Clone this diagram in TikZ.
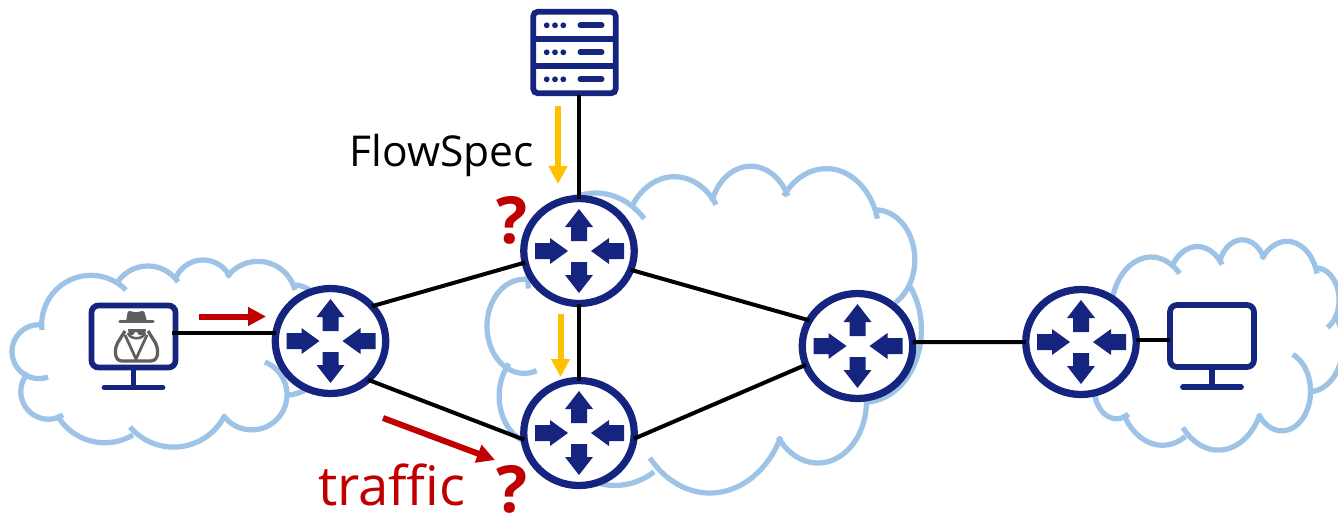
\documentclass[tikz,border=0pt]{standalone}
\usepackage{fontspec}
\setmainfont{Open Sans}
\usetikzlibrary{arrows.meta,calc,shapes.geometric}
\definecolor{navy}{HTML}{14247F}
\definecolor{cloudblue}{HTML}{9DC3E6}
\definecolor{flowgold}{HTML}{FFC000}
\definecolor{alertred}{HTML}{C00000}
\definecolor{spygray}{HTML}{5F5F5F}
\tikzset{
  cloudline/.style={draw=cloudblue, line width=.105cm},
  router/.style={ellipse, draw=navy, fill=white, line width=.145cm, minimum width=2.21cm, minimum height=2.1cm, inner sep=0pt, outer sep=0pt},
  screen/.style={draw=navy, fill=white, line width=.115cm, rounded corners=.14cm, minimum width=1.68cm, minimum height=1.24cm, inner sep=0pt, outer sep=0pt},
  rack/.style={draw=navy, fill=white, line width=.115cm, rounded corners=.09cm, minimum width=1.65cm, minimum height=1.63cm, inner sep=0pt, outer sep=0pt},
  iconline/.style={draw=navy, line width=.115cm, line cap=round},
  link/.style={draw=black, line width=.08cm},
  flowarrow/.style={draw=flowgold, line width=.12cm, -{Triangle[length=.36cm,width=.36cm]}},
  trafficarrow/.style={draw=alertred, line width=.12cm, -{Triangle[length=.36cm,width=.36cm]}},
  bigtext/.style={font=\fontsize{24.2}{28}\selectfont, anchor=base, inner sep=0pt},
  quest/.style={font=\fontsize{37}{44}\selectfont\bfseries, text=alertred, anchor=base, inner sep=0pt}
}
% one cloud, lobe by lobe: each lobe is the circle through start / middle / end
\newcommand{\cloudlobes}{
  \foreach \ax/\ay/\mx/\my/\bx/\by in {
    48/377/12/352/43/325, 42/330/68/281/126/290, 117/283/147/266/178/282,
    175/280/203/260/230/277, 227/277/265/262/295/290, 293/285/322/315/308/338,
    318/328/323/371/287/395, 265/362/274/422/223/415, 225/415/177/447/130/427,
    133/435/91/441/57/415, 63/415/27/409/28/373} {
    \pgfmathsetmacro\ux{(\bx-\ax)/100}
    \pgfmathsetmacro\uy{(\by-\ay)/100}
    \pgfmathsetmacro\vx{(\mx-\ax)/100}
    \pgfmathsetmacro\vy{(\my-\ay)/100}
    \pgfmathsetmacro\dd{2*(\ux*\vy-\uy*\vx)}
    \pgfmathsetmacro\cx{\ax+100*(\vy*(\ux*\ux+\uy*\uy)-\uy*(\vx*\vx+\vy*\vy))/\dd}
    \pgfmathsetmacro\cy{\ay+100*(\ux*(\vx*\vx+\vy*\vy)-\vx*(\ux*\ux+\uy*\uy))/\dd}
    \pgfmathsetmacro\rr{veclen(\ax-\cx,\ay-\cy)}
    \pgfmathsetmacro\angA{atan2(\ay-\cy,\ax-\cx)}
    \pgfmathsetmacro\angB{atan2(\by-\cy,\bx-\cx)}
    \pgfmathsetmacro\angC{\angB<\angA ? \angB+360 : \angB}
    \draw[cloudline] plot[domain=\angA:\angC, samples=40, variable=\t] ({\cx+\rr*cos(\t)},{\cy+\rr*sin(\t)});
  }
}
% stand under a screen
\newcommand{\screenstand}[1]{
  \draw[iconline, line cap=butt] (#1.south) -- ++(0,19);
  \draw[iconline] ($(#1.south)+(-29,20)$) -- ($(#1.south)+(29,20)$);
}
\begin{document}
\begin{tikzpicture}[x=.02cm, y=-.02cm]
  \useasboundingbox (0,0) rectangle (1338,515);
  \clip (0,0) rectangle (1338,515);

  % clouds
  \cloudlobes
  \begin{scope}[shift={(470.4,-288)}, xscale=1.38, yscale=1.747]
    \cloudlobes
  \end{scope}
  \begin{scope}[shift={(1077.2,-52.4)}, xscale=.813, yscale=1.124]
    \cloudlobes
  \end{scope}

  % routers
  \node[router] (r1) at (330.5,341) {};
  \node[router] (r2) at (579,251) {};
  \node[router] (r3) at (579,433) {};
  \node[router] (r4) at (857.5,346) {};
  \node[router] (r5) at (1081,342) {};
  \foreach \rt in {r1,r2,r3,r4,r5} {
    \begin{scope}[shift={(\rt.center)}]
      \fill[navy] (0,-42) -- (14,-24) -- (8,-24) -- (8,-10) -- (-8,-10) -- (-8,-24) -- (-14,-24) -- cycle;
      \fill[navy] (0,42) -- (14,24) -- (8,24) -- (8,11) -- (-8,11) -- (-8,24) -- (-14,24) -- cycle;
      \fill[navy] (-11,0) -- (-29,-13) -- (-29,-8) -- (-44,-8) -- (-44,8) -- (-29,8) -- (-29,13) -- cycle;
      \fill[navy] (12,0) -- (30,-13) -- (30,-8) -- (45,-8) -- (45,8) -- (30,8) -- (30,13) -- cycle;
    \end{scope}
  }

  % attacker
  \node[screen] (atk) at (133.5,336.5) {};
  \screenstand{atk}
  \fill[spygray, rounded corners=.03cm] (126,321) -- (128,310.5) -- (136,312.5) -- (144,310.5) -- (147,321) -- cycle;
  \draw[spygray, line width=.065cm, line cap=round] (120,321.5) -- (153,321.5);
  \fill[spygray] (128,329) -- (146,329) -- (145,335) -- (139,335) -- (137,332) -- (135,332) -- (133,335) -- (129,335) -- cycle;
  \draw[spygray, line width=.05cm] (128,333) .. controls (130,340) and (143,340) .. (145,333);
  \draw[spygray, line width=.065cm, line join=round] (125,331) -- (120,339)
    .. controls (113,348) and (114,361) .. (122,361) -- (151,361)
    .. controls (159,361) and (160,348) .. (153,339) -- (148,331);
  \draw[spygray, line width=.055cm, line join=round] (125,335) -- (136,359) -- (147,335);

  % victim
  \node[screen] (host) at (1212,336) {};
  \screenstand{host}

  % controller
  \node[rack] (srv) at (574.5,52.5) {};
  \draw[iconline, line cap=butt] (srv.west |- 0,39.3) -- (srv.east |- 0,39.3);
  \draw[iconline, line cap=butt] (srv.west |- 0,66) -- (srv.east |- 0,66);
  \foreach \rowy in {25.3,52.3,79.3} {
    \foreach \dotx in {546.7,555,563.3}
      \fill[navy] (\dotx,\rowy) circle[radius=2.9];
    \draw[navy, line width=.12cm, line cap=round] (580.5,\rowy) -- (601.5,\rowy);
  }

  % links
  \coordinate (atkport) at (172,333);
  \draw[link] (atkport) -- (atkport -| r1.172);
  \draw[link] (r1.40) -- (r2.192);
  \draw[link] (r1.-46) -- (r3.187);
  \draw[link] (r2.-20) -- (r4.152);
  \draw[link] (r3.-6) -- (r4.200);
  \draw[link] (r2.south) -- (r3.north);
  \draw[link] (r4.4) -- (r5.180);
  \draw[link] (r5.2) -- (host.west |- r5.2);
  \draw[link] (srv.south -| r2.north) ++(0,2) -- (r2.north);

  % arrows
  \coordinate (flowA) at (558,106);
  \coordinate (flowB) at (558,184);
  \coordinate (flowC) at (560.5,314);
  \coordinate (flowD) at (560.5,377);
  \coordinate (attA) at (199,316.5);
  \coordinate (attB) at (266,316.5);
  \coordinate (trA) at (383,418);
  \coordinate (trB) at (495,460);
  \draw[flowarrow] (flowA) -- (flowB);
  \draw[flowarrow] (flowC) -- (flowD);
  \draw[trafficarrow] (attA) -- (attB);
  \draw[trafficarrow] (trA) -- (trB);

  % labels
  \node[bigtext] (flowlabel) at (442,166) {FlowSpec};
  \node[bigtext, font=\fontsize{31}{36}\selectfont, text=alertred] (trafficlabel) at (392,505) {traffic};
  \node[quest] (questA) at (512,243) {?};
  \node[quest] (questB) at (512,512) {?};
\end{tikzpicture}
\end{document}
